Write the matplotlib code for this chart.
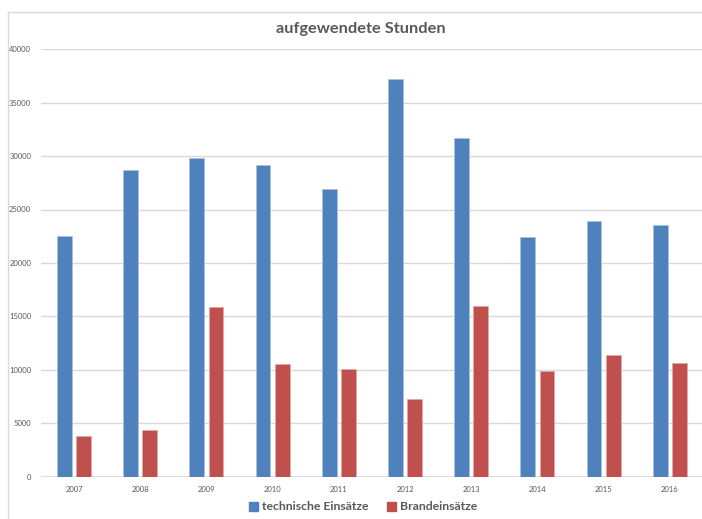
import matplotlib
matplotlib.use("Agg")
import matplotlib.pyplot as plt
import numpy as np
from matplotlib.lines import Line2D
from matplotlib.patches import Patch

years = ["2007", "2008", "2009", "2010", "2011", "2012", "2013", "2014", "2015", "2016"]
technische = [22540, 28730, 29830, 29170, 26950, 37240, 31730, 22420, 23920, 23570]
brand = [3780, 4370, 15880, 10500, 10040, 7220, 16000, 9880, 11350, 10660]
series_names = ["technische Einsätze", "Brandeinsätze"]
title = "aufgewendete Stunden"
yticks = [0, 5000, 10000, 15000, 20000, 25000, 30000, 35000, 40000]

BLUE = "#4F81BD"
RED = "#C0504D"
TEXT = "#595959"
GRID = "#D9D9D9"

plt.rcParams["font.family"] = ["Lato", "DejaVu Sans"]

W, H = 702, 519
fig = plt.figure(figsize=(W / 100, H / 100), dpi=100)

# chart frame: left and top edges only (rest runs off the canvas)
fx, fy = 7.5 / W, 1 - 11.5 / H
fig.add_artist(Line2D([fx, fx], [0, fy], transform=fig.transFigure, color=GRID, linewidth=1.0))
fig.add_artist(Line2D([fx, 1.0], [fy, fy], transform=fig.transFigure, color=GRID, linewidth=1.0))

ax = fig.add_axes([40.8 / W, 1 - 476.5 / H, (703 - 40.8) / W, (476.5 - 49.3) / H])
ax.set_facecolor("none")

x = np.arange(len(years))
bw = 0.222
off = 0.145
ax.bar(x - off, technische, width=bw, color=BLUE, edgecolor="#A9C1E2", linewidth=0.6, zorder=3)
ax.bar(x + off, brand, width=bw, color=RED, edgecolor="#E2A9A7", linewidth=0.6, zorder=3)

ax.set_xlim(-0.5, len(years) - 0.5)
ax.set_ylim(0, 40000)
ax.set_yticks(yticks)
ax.set_yticklabels([str(v) for v in yticks])
ax.set_xticks(x)
ax.set_xticklabels(years)
ax.tick_params(axis="both", length=0, labelsize=5.5, labelcolor=TEXT)
ax.tick_params(axis="y", pad=7)
ax.tick_params(axis="x", pad=7)
ax.grid(axis="y", color=GRID, linewidth=1.0, zorder=0)
ax.set_axisbelow(True)
for s in ax.spines.values():
    s.set_visible(False)
ax.axhline(0, color=GRID, linewidth=1.2, zorder=2)

fig.text(361 / W, 1 - 29 / H, title, ha="center", va="center",
         fontsize=11.8, fontweight="bold", color=TEXT)

handles = [Patch(facecolor=BLUE, edgecolor=BLUE), Patch(facecolor=RED, edgecolor=RED)]
fig.legend(handles, series_names, loc="center", bbox_to_anchor=(363 / W, 1 - 507 / H),
           ncol=2, frameon=False, labelcolor=TEXT,
           handlelength=0.75, handleheight=0.75, handletextpad=0.3, columnspacing=1.5,
           prop={"weight": "bold", "size": 8.8})

fig.savefig("out.png", dpi=100)
